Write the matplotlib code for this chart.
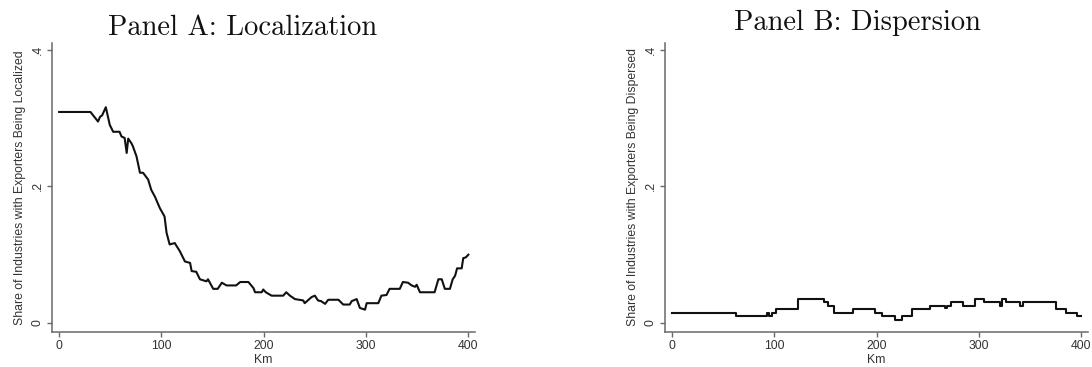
import matplotlib
matplotlib.use("Agg")
import matplotlib.pyplot as plt

# Panel A: share localized (km, share)
loc_km = [0, 30.6, 38, 40, 42, 45.6, 49.5, 52.8, 59, 61, 64, 66, 67.5, 70.7, 72, 75.6, 79,
          82, 87, 90, 93.6, 98.5, 103, 105, 108, 113, 118, 123, 128, 129.5, 134, 137.6,
          144, 145.5, 150.6, 155, 159, 163.6, 173, 177, 185, 190, 191.5, 198, 199.5, 202,
          207.7, 219, 222, 225.6, 230.5, 238.6, 240, 246.8, 250, 253, 256, 260, 263, 273,
          277.7, 284, 286, 290.8, 294, 299, 300.6, 312, 315, 320, 323, 333, 336, 341,
          344.6, 348, 349.5, 352.7, 367, 370.7, 374, 377, 382, 384.7, 387, 389, 393.5,
          395, 397.5, 400]
loc_val = [0.309, 0.309, 0.295, 0.302, 0.304, 0.316, 0.29, 0.28, 0.28, 0.273, 0.271, 0.249,
           0.27, 0.263, 0.259, 0.244, 0.22, 0.22, 0.21, 0.195, 0.185, 0.168, 0.156, 0.132,
           0.115, 0.117, 0.105, 0.09, 0.088, 0.076, 0.075, 0.064, 0.061, 0.064, 0.05, 0.05,
           0.059, 0.055, 0.055, 0.06, 0.06, 0.051, 0.045, 0.045, 0.049, 0.045, 0.04, 0.04,
           0.045, 0.04, 0.035, 0.033, 0.029, 0.038, 0.04, 0.033, 0.032, 0.028, 0.034, 0.034,
           0.027, 0.027, 0.032, 0.035, 0.022, 0.0195, 0.029, 0.029, 0.04, 0.041, 0.05, 0.05,
           0.06, 0.059, 0.055, 0.053, 0.056, 0.045, 0.045, 0.064, 0.064, 0.05, 0.05, 0.064,
           0.069, 0.08, 0.08, 0.095, 0.096, 0.1]

# Panel B: share dispersed, step function (km where value starts, share)
disp_km = [0, 62.6, 93, 95, 98, 101.7, 123, 148, 152, 158, 176.5, 198.5, 205, 218, 224.5,
           234.5, 252.5, 267, 268.5, 273, 284, 296, 305, 320, 322.5, 326, 340, 342.5, 375,
           385, 396, 400]
disp_val = [0.015, 0.01, 0.015, 0.01, 0.015, 0.02, 0.035, 0.03, 0.025, 0.015, 0.02, 0.015,
            0.01, 0.005, 0.01, 0.02, 0.025, 0.022, 0.025, 0.03, 0.025, 0.035, 0.03, 0.025,
            0.035, 0.03, 0.025, 0.03, 0.02, 0.015, 0.01, 0.01]

titles = ["Panel A: Localization", "Panel B: Dispersion"]
ylabels = ["Share of Industries with Exporters Being Localized",
           "Share of Industries with Exporters Being Dispersed"]

fig = plt.figure(figsize=(10.92, 3.67), dpi=100)
W, H = 1092, 367
axA = fig.add_axes([52 / W, 1 - 332 / H, 423 / W, 289 / H])
axB = fig.add_axes([665 / W, 1 - 332 / H, 423 / W, 289 / H])

axA.plot(loc_km, loc_val, color="#111111", lw=1.5)
axB.plot(disp_km, disp_val, color="#111111", lw=1.5, drawstyle="steps-post")

for ax, yl in zip([axA, axB], ylabels):
    ax.set_xlim(-7, 406.5)
    ax.set_ylim(-0.0132, 0.41)
    for s in ["top", "right"]:
        ax.spines[s].set_visible(False)
    for s in ["left", "bottom"]:
        ax.spines[s].set_color("#6a6a6a")
        ax.spines[s].set_linewidth(1.1)
    ax.set_xticks([0, 100, 200, 300, 400])
    ax.set_yticks([0, 0.2, 0.4])
    ax.set_yticklabels(["0", ".2", ".4"], rotation=90, va="center")
    ax.tick_params(colors="#6a6a6a", labelcolor="#333333", labelsize=8.8,
                   length=3.5, width=1.0, pad=2.5)
    ax.set_xlabel("Km", fontsize=8.8, color="#333333", family="Liberation Sans", labelpad=1)
    ax.set_ylabel(yl, fontsize=8.8, color="#333333", family="Liberation Sans", labelpad=4)
    for lab in ax.get_xticklabels() + ax.get_yticklabels():
        lab.set_family("Liberation Sans")

fig.text(243 / W, 1 - 28 / H, titles[0], family="cmr10", fontsize=20.5,
         ha="center", va="center", color="#111111")
fig.text(857 / W, 1 - 23 / H, titles[1], family="cmr10", fontsize=20.5,
         ha="center", va="center", color="#111111")

fig.savefig("out.png", dpi=100)
